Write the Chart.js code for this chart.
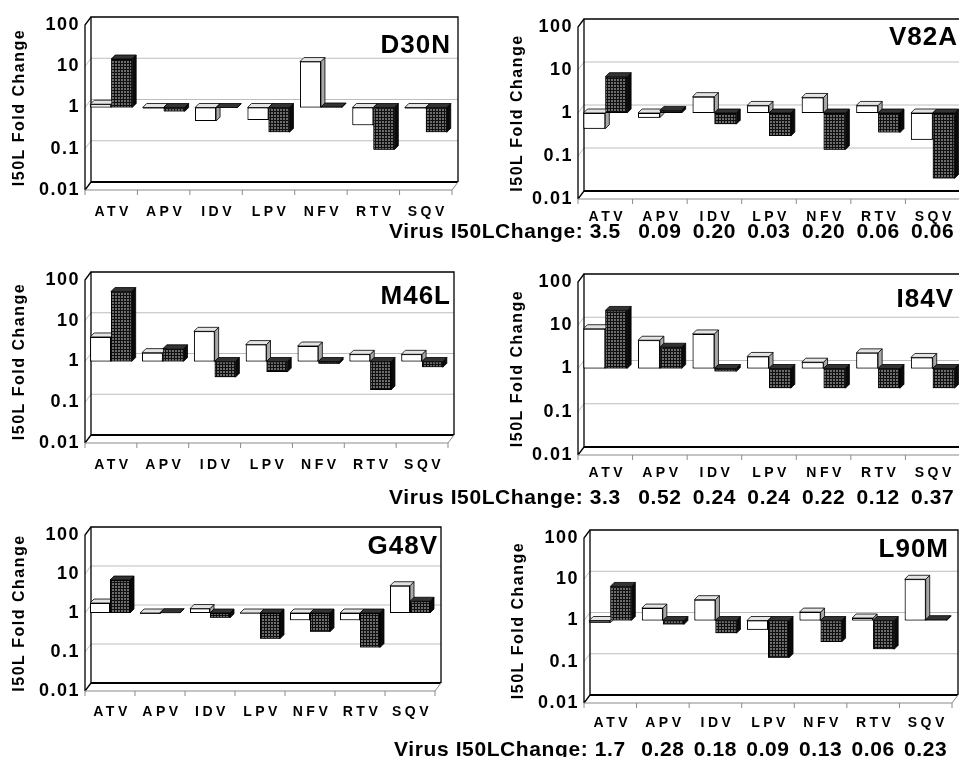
<!DOCTYPE html>
<html>
<head>
<meta charset="utf-8">
<title>I50L fold change</title>
<script src="https://cdn.jsdelivr.net/npm/chart.js@4.4.1/dist/chart.umd.min.js"></script>
<style>
  html, body { margin: 0; padding: 0; background: #fff; width: 959px; height: 757px; overflow: hidden; }
  canvas { position: absolute; }
</style>
</head>
<body>
<canvas id="c_d30n"></canvas>
<canvas id="c_v82a"></canvas>
<canvas id="c_m46l"></canvas>
<canvas id="c_i84v"></canvas>
<canvas id="c_g48v"></canvas>
<canvas id="c_l90m"></canvas>
<script>
const drugs = ['ATV', 'APV', 'IDV', 'LPV', 'NFV', 'RTV', 'SQV'];
const yTicks = [0.01, 0.1, 1, 10, 100];
const yTickLabels = ['0.01', '0.1', '1', '10', '100'];

// open bars / hatched bars
const d30nOpen  = [1.2, 0.95, 0.47, 0.5, 13, 0.37, 0.95];
const d30nDark  = [15, 0.8, 0.97, 0.25, 1.03, 0.095, 0.25];
const v82aOpen  = [0.43, 0.78, 2.4, 1.5, 2.3, 1.5, 0.24];
const v82aDark  = [7, 1.15, 0.55, 0.29, 0.14, 0.35, 0.03];
const m46lOpen  = [4, 1.65, 5.5, 2.6, 2.4, 1.5, 1.5];
const m46lDark  = [52, 2.05, 0.41, 0.55, 0.88, 0.2, 0.72];
const i84vOpen  = [8.3, 4.5, 6.3, 1.9, 1.4, 2.3, 1.8];
const i84vDark  = [22, 3.1, 0.85, 0.35, 0.35, 0.35, 0.35];
const g48vOpen  = [1.8, 0.95, 1.3, 0.97, 0.65, 0.65, 5];
const g48vDark  = [7, 1.02, 0.75, 0.22, 0.33, 0.13, 2];
const l90mOpen  = [0.88, 2, 3.2, 0.6, 1.6, 1.15, 10];
const l90mDark  = [6.7, 0.8, 0.49, 0.125, 0.3, 0.2, 1.05];

const virusLabel = 'Virus I50LChange:';
const v82aVirus = ['3.5', '0.09', '0.20', '0.03', '0.20', '0.06', '0.06'];
const i84vVirus = ['3.3', '0.52', '0.24', '0.24', '0.22', '0.12', '0.37'];
const l90mVirus = ['1.7', '0.28', '0.18', '0.09', '0.13', '0.06', '0.23'];

Chart.defaults.font.family = '"Liberation Sans", Arial, Helvetica, sans-serif';
Chart.defaults.color = '#000';

// page layout: canvas box [left, top, width, height], plot area [left, top, right, bottom]
const panels = [
  { id: 'c_d30n', name: 'D30N', open: d30nOpen, dark: d30nDark, virus: null,
    canvas: [0, 0, 475, 232], area: [85, 25, 452, 190], titleX: 20, nameX: 450, nameY: 46, catY: 212 },
  { id: 'c_v82a', name: 'V82A', open: v82aOpen, dark: v82aDark, virus: v82aVirus,
    canvas: [370, 0, 600, 250], area: [578, 27, 960, 199], titleX: 518, nameX: 957, nameY: 38, catY: 217, virusY: 232 },
  { id: 'c_m46l', name: 'M46L', open: m46lOpen, dark: m46lDark, virus: null,
    canvas: [0, 250, 475, 235], area: [85, 280, 448, 443], titleX: 20, nameX: 450, nameY: 297, catY: 465 },
  { id: 'c_i84v', name: 'I84V', open: i84vOpen, dark: i84vDark, virus: i84vVirus,
    canvas: [370, 255, 600, 255], area: [578, 282, 960, 455], titleX: 518, nameX: 953, nameY: 300, catY: 473, virusY: 498 },
  { id: 'c_g48v', name: 'G48V', open: g48vOpen, dark: g48vDark, virus: null,
    canvas: [0, 510, 475, 240], area: [85, 535, 435, 691], titleX: 20, nameX: 437, nameY: 547, catY: 712 },
  { id: 'c_l90m', name: 'L90M', open: l90mOpen, dark: l90mDark, virus: l90mVirus,
    canvas: [370, 515, 600, 242], area: [584, 538, 952, 703], titleX: 519, nameX: 948, nameY: 550, catY: 723, virusY: 750 }
];

const WALL_DX = 6, WALL_DY = 8;   // depth of the back wall
const BAR_D = 4;                  // depth of each bar
const X_AXIS_H = 30;

function hatch(ctx) {
  const c = document.createElement('canvas');
  c.width = 3; c.height = 3;
  const g = c.getContext('2d');
  g.fillStyle = '#6c6c6c';
  g.fillRect(0, 0, 3, 3);
  g.fillStyle = '#101010';
  g.fillRect(0, 0, 3, 1);
  g.fillRect(0, 0, 1, 3);
  return ctx.createPattern(c, 'repeat');
}

function poly(ctx, pts, fill) {
  ctx.beginPath();
  ctx.moveTo(pts[0][0], pts[0][1]);
  for (let k = 1; k < pts.length; k++) ctx.lineTo(pts[k][0], pts[k][1]);
  ctx.closePath();
  ctx.fillStyle = fill;
  ctx.fill();
  ctx.stroke();
}

function panelPlugin(p) {
  const left0 = p.canvas[0], top0 = p.canvas[1];
  return {
    id: 'panel3d',
    beforeDraw(chart) {
      chart.ctx.letterSpacing = '1.5px';
    },
    beforeDatasetsDraw(chart) {
      const ctx = chart.ctx;
      const { left: l, top: t, right: r, bottom: b } = chart.chartArea;
      const y = chart.scales.y, x = chart.scales.x;
      ctx.save();
      // grid lines on side and back wall
      ctx.strokeStyle = '#bdbdbd';
      ctx.lineWidth = 1;
      [0.1, 1, 10].forEach(v => {
        const py = y.getPixelForValue(v);
        ctx.beginPath();
        ctx.moveTo(l, py);
        ctx.lineTo(l + WALL_DX, py - WALL_DY);
        ctx.lineTo(r + WALL_DX, py - WALL_DY);
        ctx.stroke();
      });
      // back wall
      ctx.strokeStyle = '#000';
      ctx.lineWidth = 1.3;
      ctx.beginPath();
      ctx.moveTo(l + WALL_DX, b - WALL_DY);
      ctx.lineTo(l + WALL_DX, t - WALL_DY);
      ctx.lineTo(r + WALL_DX, t - WALL_DY);
      ctx.lineTo(r + WALL_DX, b - WALL_DY);
      ctx.stroke();
      ctx.lineWidth = 2;
      ctx.beginPath();
      ctx.moveTo(l + WALL_DX, b - WALL_DY);
      ctx.lineTo(r + WALL_DX, b - WALL_DY);
      ctx.stroke();
      // side wall / value axis
      ctx.lineWidth = 1.3;
      ctx.beginPath();
      ctx.moveTo(l, b);
      ctx.lineTo(l, t);
      ctx.lineTo(l + WALL_DX, t - WALL_DY);
      ctx.moveTo(l, b);
      ctx.lineTo(l + WALL_DX, b - WALL_DY);
      ctx.stroke();
      // front edge of the floor with category ticks
      ctx.strokeStyle = '#8a8a8a';
      ctx.lineWidth = 1;
      ctx.beginPath();
      ctx.moveTo(l, b);
      ctx.lineTo(r, b);
      ctx.lineTo(r + WALL_DX, b - WALL_DY);
      const half = (x.getPixelForValue(1) - x.getPixelForValue(0)) / 2;
      for (let i = 0; i <= drugs.length; i++) {
        const px = x.getPixelForValue(0) - half + i * half * 2;
        ctx.moveTo(px, b);
        ctx.lineTo(px, b + 5);
      }
      ctx.stroke();
      ctx.restore();
    },
    afterDatasetsDraw(chart) {
      const ctx = chart.ctx;
      const looks = [
        { meta: chart.getDatasetMeta(0), top: '#e4e4e4', side: '#a8a8a8' },
        { meta: chart.getDatasetMeta(1), top: '#333', side: '#0a0a0a' }
      ];
      ctx.save();
      ctx.strokeStyle = '#000';
      ctx.lineWidth = 0.8;
      for (let i = 0; i < drugs.length; i++) {
        looks.forEach(s => {
          const bar = s.meta.data[i];
          const { x, y, base, width } = bar.getProps(['x', 'y', 'base', 'width'], true);
          const L = x - width / 2, R = x + width / 2;
          const T = Math.min(y, base), B = Math.max(y, base);
          poly(ctx, [[R, T], [R + BAR_D, T - BAR_D], [R + BAR_D, B - BAR_D], [R, B]], s.side);
          poly(ctx, [[L, T], [R, T], [R + BAR_D, T - BAR_D], [L + BAR_D, T - BAR_D]], s.top);
          bar.draw(ctx);
        });
      }
      ctx.restore();
    },
    afterDraw(chart) {
      const ctx = chart.ctx;
      const x = chart.scales.x;
      ctx.save();
      ctx.fillStyle = '#000';
      ctx.textBaseline = 'middle';
      // category labels
      ctx.letterSpacing = '3.5px';
      ctx.font = 'bold 14px "Liberation Sans", Arial, sans-serif';
      ctx.textAlign = 'center';
      drugs.forEach((d, i) => ctx.fillText(d, x.getPixelForValue(i) + 2, p.catY - top0));
      // mutation name
      ctx.letterSpacing = '1px';
      ctx.font = 'bold 26px "Liberation Sans", Arial, sans-serif';
      ctx.textAlign = 'right';
      ctx.fillText(p.name, p.nameX - left0 + 1, p.nameY - top0);
      // virus fold change row
      if (p.virus) {
        ctx.letterSpacing = '0.6px';
        ctx.font = 'bold 21px "Liberation Sans", Arial, sans-serif';
        ctx.textAlign = 'right';
        ctx.fillText(virusLabel, x.getPixelForValue(0) - 22, p.virusY - top0);
        ctx.textAlign = 'center';
        p.virus.forEach((v, i) => ctx.fillText(v, x.getPixelForValue(i), p.virusY - top0));
      }
      ctx.restore();
    }
  };
}

function makeChart(p) {
  const [cl, ct, cw, ch] = p.canvas;
  const [al, at, ar, ab] = p.area;
  const el = document.getElementById(p.id);
  el.style.left = cl + 'px';
  el.style.top = ct + 'px';
  el.style.width = cw + 'px';
  el.style.height = ch + 'px';
  el.width = cw;
  el.height = ch;
  const scaleLeft = p.titleX - 10;
  const yWidth = al - scaleLeft;

  return new Chart(el, {
    type: 'bar',
    data: {
      labels: drugs,
      datasets: [
        {
          data: p.open.map(v => [1, v]),
          backgroundColor: '#fff',
          borderColor: '#000',
          borderWidth: 1,
          borderSkipped: false,
          barPercentage: 1,
          categoryPercentage: 0.8
        },
        {
          data: p.dark.map(v => [1, v]),
          backgroundColor: hatch(el.getContext('2d')),
          borderColor: '#000',
          borderWidth: 1,
          borderSkipped: false,
          barPercentage: 1,
          categoryPercentage: 0.8
        }
      ]
    },
    options: {
      responsive: false,
      animation: false,
      devicePixelRatio: 1,
      layout: {
        padding: {
          left: scaleLeft - cl,
          top: at - ct,
          right: cl + cw - ar,
          bottom: ct + ch - ab - X_AXIS_H
        }
      },
      plugins: {
        legend: { display: false },
        tooltip: { enabled: false }
      },
      scales: {
        x: {
          grid: { display: false, drawTicks: false },
          border: { display: false },
          ticks: { display: false },
          afterFit: s => { s.height = X_AXIS_H; }
        },
        y: {
          type: 'logarithmic',
          min: 0.01,
          max: 100,
          afterBuildTicks: s => { s.ticks = yTicks.map(v => ({ value: v })); },
          afterFit: s => { s.width = yWidth; },
          grid: { display: false, drawTicks: false },
          border: { display: false },
          ticks: {
            callback: (v, i) => yTickLabels[i],
            font: { size: 18, weight: 'bold' },
            color: '#000',
            padding: 5
          },
          title: {
            display: true,
            text: 'I50L Fold Change',
            font: { size: 16, weight: 'bold' },
            color: '#000',
            padding: 0
          }
        }
      }
    },
    plugins: [panelPlugin(p)]
  });
}

panels.forEach(makeChart);
</script>
</body>
</html>
